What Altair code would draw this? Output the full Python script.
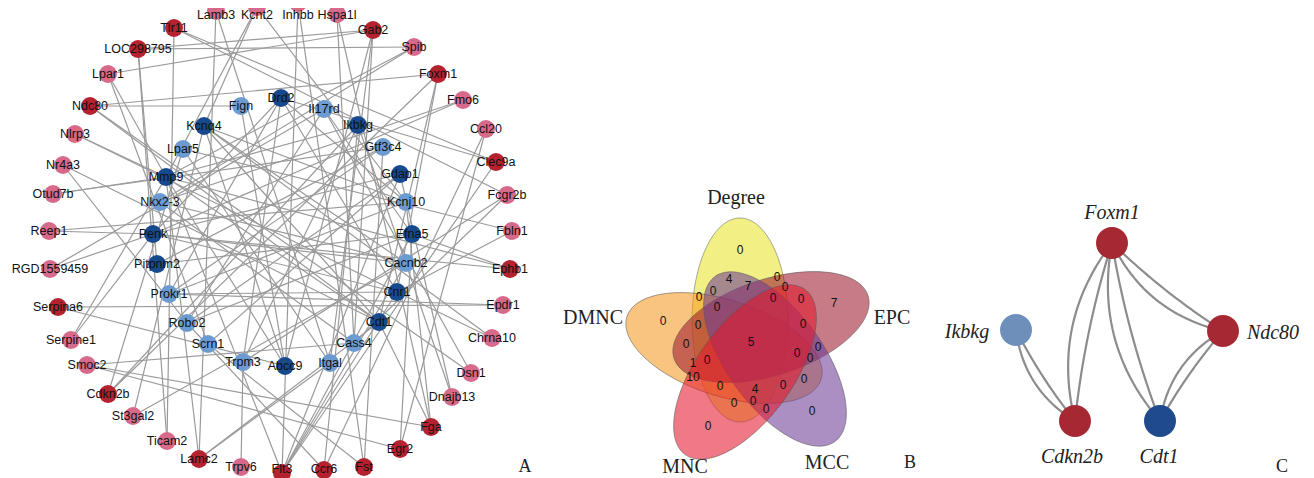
import altair as alt
import pandas as pd
import numpy as np

# ---------------- Panel A : PPI network ----------------
a_names = ["Lamb3", "Kcnt2", "Inhbb", "Hspa1l", "Gab2", "Spib", "Foxm1", "Fmo6", "Ccl20", "Clec9a",
           "Fcgr2b", "Fbln1", "Ephb1", "Epdr1", "Chrna10", "Dsn1", "Dnajb13", "Fga", "Egr2", "Fst",
           "Ccr6", "Flt3", "Trpv6", "Lamc2", "Ticam2", "St3gal2", "Cdkn2b", "Smoc2", "Serpine1", "Serpina6",
           "RGD1559459", "Reep1", "Otud7b", "Nr4a3", "Nlrp3", "Ndc80", "Lpar1", "LOC298795", "Tlr11",
           "Fign", "Drd2", "Il17rd", "Ikbkg", "Gtf3c4", "Gdap1", "Kcnj10", "Efna5", "Cacnb2", "Cnr1",
           "Cdt1", "Cass4", "Itgal", "Abcc9", "Trpm3", "Scrn1", "Robo2", "Prokr1", "Pitpnm2", "Penk",
           "Nkx2-3", "Mmp9", "Lpar5", "Kcnq4"]
a_x = [216, 257, 298, 337, 373, 414, 438, 463, 486, 496,
       507, 512, 510, 503, 492, 471, 452, 431, 400, 364,
       324, 282, 241, 199, 167, 133, 108, 87, 71, 58,
       50, 49, 53, 63, 75, 90, 108, 138, 174,
       241, 281, 324, 358, 383, 400, 406, 412, 406, 397,
       379, 354, 330, 285, 243, 208, 187, 169, 157, 153,
       160, 166, 183, 204]
a_y = [11, 7, 3, 14, 30, 47, 74, 100, 129, 162,
       195, 231, 269, 305, 338, 373, 397, 427, 449, 467,
       470, 473, 467, 459, 441, 416, 394, 365, 340, 307,
       269, 231, 194, 165, 134, 106, 74, 49, 28,
       106, 98, 109, 125, 147, 174, 202, 234, 263, 292,
       322, 343, 363, 366, 362, 344, 323, 294, 264, 234,
       202, 177, 149, 126]
a_type = ["pink", "pink", "pink", "pink", "dred", "pink", "dred", "pink", "pink", "dred",
          "pink", "pink", "dred", "pink", "pink", "pink", "pink", "dred", "dred", "dred",
          "dred", "dred", "pink", "dred", "pink", "pink", "dred", "pink", "pink", "dred",
          "pink", "pink", "pink", "pink", "pink", "dred", "pink", "dred", "dred",
          "lblue", "dblue", "lblue", "dblue", "lblue", "dblue", "lblue", "dblue", "lblue", "dblue",
          "dblue", "lblue", "lblue", "dblue", "lblue", "lblue", "lblue", "lblue", "dblue", "dblue",
          "lblue", "dblue", "lblue", "dblue"]

a_edges = [
    ("Tlr11", "Clec9a"), ("Tlr11", "Fcgr2b"), ("Tlr11", "Ticam2"),
    ("LOC298795", "Gab2"), ("LOC298795", "Spib"), ("LOC298795", "Pitpnm2"),
    ("Lamb3", "Lamc2"), ("Lamb3", "Itgal"),
    ("Kcnt2", "Kcnq4"), ("Kcnt2", "Mmp9"), ("Kcnt2", "Kcnj10"),
    ("Inhbb", "Fst"), ("Inhbb", "Flt3"),
    ("Hspa1l", "Fga"), ("Hspa1l", "Cass4"),
    ("Gab2", "Cass4"), ("Gab2", "Abcc9"), ("Gab2", "Lpar1"), ("Gab2", "Itgal"),
    ("Spib", "Mmp9"), ("Spib", "Nkx2-3"),
    ("Foxm1", "Ndc80"), ("Foxm1", "Cdt1"), ("Foxm1", "Cdkn2b"), ("Foxm1", "Cnr1"),
    ("Fmo6", "Nkx2-3"), ("Fmo6", "Penk"),
    ("Ccl20", "Ccr6"), ("Ccl20", "Egr2"),
    ("Clec9a", "Flt3"), ("Clec9a", "Drd2"),
    ("Fcgr2b", "Trpm3"), ("Fcgr2b", "Cass4"),
    ("Fbln1", "Cnr1"), ("Fbln1", "Lpar5"),
    ("Ephb1", "Efna5"), ("Ephb1", "Penk"), ("Ephb1", "Mmp9"),
    ("Epdr1", "Serpina6"), ("Epdr1", "Prokr1"),
    ("Chrna10", "Cnr1"), ("Chrna10", "Kcnq4"),
    ("Dsn1", "Il17rd"), ("Dsn1", "Ndc80"),
    ("Dnajb13", "Gdap1"), ("Dnajb13", "Ikbkg"),
    ("Fga", "Cdt1"), ("Fga", "Smoc2"), ("Fga", "Kcnj10"),
    ("Egr2", "Smoc2"), ("Egr2", "Efna5"),
    ("Fst", "Scrn1"), ("Fst", "Gtf3c4"),
    ("Ccr6", "Robo2"), ("Ccr6", "Ikbkg"),
    ("Flt3", "Cnr1"), ("Flt3", "Cacnb2"), ("Flt3", "Mmp9"), ("Flt3", "Efna5"), ("Flt3", "Gdap1"),
    ("Trpv6", "Trpm3"),
    ("Lamc2", "Itgal"), ("Lamc2", "Mmp9"), ("Lamc2", "Cdt1"),
    ("Ticam2", "LOC298795"),
    ("St3gal2", "Kcnq4"), ("St3gal2", "Cacnb2"),
    ("Cdkn2b", "Ikbkg"), ("Cdkn2b", "Lpar5"),
    ("Smoc2", "Cass4"),
    ("Serpine1", "Penk"), ("Serpine1", "Mmp9"),
    ("Serpina6", "Abcc9"),
    ("RGD1559459", "Penk"), ("RGD1559459", "Il17rd"),
    ("Reep1", "Kcnj10"), ("Reep1", "Penk"),
    ("Otud7b", "Gtf3c4"), ("Otud7b", "Mmp9"),
    ("Nr4a3", "Robo2"), ("Nr4a3", "Cdt1"),
    ("Nlrp3", "Mmp9"), ("Nlrp3", "Cnr1"),
    ("Ndc80", "Cdt1"), ("Ndc80", "Fign"),
    ("Lpar1", "Mmp9"), ("Lpar1", "Scrn1"),
    ("Drd2", "Cnr1"), ("Drd2", "Penk"), ("Drd2", "Kcnj10"), ("Drd2", "Prokr1"), ("Drd2", "Trpm3"),
    ("Fign", "Abcc9"),
    ("Il17rd", "Robo2"), ("Il17rd", "Efna5"),
    ("Ikbkg", "Mmp9"), ("Ikbkg", "Trpm3"),
    ("Gtf3c4", "Pitpnm2"), ("Gtf3c4", "Prokr1"),
    ("Gdap1", "Penk"), ("Gdap1", "Robo2"), ("Gdap1", "Scrn1"),
    ("Kcnj10", "Prokr1"), ("Kcnj10", "Kcnq4"),
    ("Efna5", "Robo2"), ("Efna5", "Pitpnm2"),
    ("Cacnb2", "Penk"), ("Cacnb2", "Nkx2-3"), ("Cacnb2", "Kcnq4"),
    ("Cnr1", "Penk"), ("Cnr1", "Prokr1"),
    ("Cdt1", "Mmp9"), ("Cdt1", "Kcnq4"),
    ("Cass4", "Nkx2-3"),
    ("Itgal", "Lpar5"),
    ("Abcc9", "Kcnq4"), ("Abcc9", "Mmp9"),
]

node_colors = {"dred": "#B3222E", "pink": "#D7698A", "dblue": "#17498F", "lblue": "#6C9BD2"}

# ---------------- Panel B : 5-set Venn (drawing order = list order) ----------------
v_sets = ["Degree", "DMNC", "EPC", "MCC", "MNC"]
v_cx = [740, 724, 771, 775, 745]
v_cy = [320, 348, 327, 359, 372]
v_angle = [0, 288, 72, 144, 216]
v_fill = ["#E9E52C", "#F59A22", "#9E1C30", "#6E3C96", "#E31A2C"]
v_label_x = [736, 593, 892, 827, 685]
v_label_y = [198, 318, 318, 463, 467]

v_counts = ["0", "4", "7", "0", "0", "0", "0", "7", "0", "0", "0", "0", "0", "0", "5", "0",
            "0", "0", "0", "1", "0", "10", "0", "4", "0", "0", "0", "0", "0", "0", "0"]
v_count_x = [740, 729, 748, 777, 785, 773, 801, 834, 699, 713, 717, 663, 698, 686, 751, 803,
             818, 797, 810, 693, 707, 693, 720, 755, 783, 804, 734, 753, 766, 708, 812]
v_count_y = [250, 279, 286, 277, 287, 298, 299, 303, 297, 291, 307, 321, 325, 344, 342, 324,
             347, 353, 358, 363, 360, 377, 386, 389, 385, 379, 403, 401, 409, 426, 411]

# ---------------- Panel C : core genes ----------------
c_names = ["Foxm1", "Ikbkg", "Ndc80", "Cdkn2b", "Cdt1"]
c_x = [1112, 1016, 1223, 1075, 1160]
c_y = [243, 330, 331, 421, 421]
c_color = ["#A52833", "#6E8FBA", "#A52833", "#A52833", "#1F4A8C"]
c_label_x = [1112, 967, 1273, 1072, 1159]
c_label_y = [213, 332, 333, 457, 457]
c_edges = [("Foxm1", "Cdkn2b"), ("Foxm1", "Cdt1"), ("Foxm1", "Ndc80"),
           ("Ikbkg", "Cdkn2b"), ("Ndc80", "Cdt1")]
c_bends = [0.025, 0.12]

panel_letters = ["A", "B", "C"]
panel_letter_x = [525, 910, 1282]
panel_letter_y = [467, 463, 467]

# ---------------- build tables ----------------
W, H = 1298, 470
XS = alt.Scale(domain=[8, 8 + W])
YS = alt.Scale(domain=[8, 8 + H], reverse=True)
LABEL_TOP, LABEL_BOTTOM = 15, 469  # keep the edge labels inside the drawing


def X(f):
    return alt.X(f, type="quantitative", scale=XS, axis=None)


def Y(f):
    return alt.Y(f, type="quantitative", scale=YS, axis=None)


nodes_a = pd.DataFrame({"name": a_names, "x": a_x, "y": a_y, "type": a_type})
nodes_a["col"] = nodes_a["type"].map(node_colors)
nodes_a["ly"] = nodes_a["y"].clip(lower=LABEL_TOP, upper=LABEL_BOTTOM)
pos = {n: (x, y) for n, x, y in zip(a_names, a_x, a_y)}
edges_a = pd.DataFrame({
    "x1": [pos[s][0] for s, t in a_edges], "y1": [pos[s][1] for s, t in a_edges],
    "x2": [pos[t][0] for s, t in a_edges], "y2": [pos[t][1] for s, t in a_edges],
})

# curved double edges for panel C (quadratic Bezier sampled along the chord)
cpos = {n: (x, y) for n, x, y in zip(c_names, c_x, c_y)}
rows = []
ts = np.linspace(0, 1, 30)
eid = 0
for s, t in c_edges:
    P = np.array(cpos[s], dtype=float)
    Q = np.array(cpos[t], dtype=float)
    d = Q - P
    L = np.hypot(*d)
    n = np.array([-d[1], d[0]]) / L
    for b in c_bends:
        C = (P + Q) / 2 + n * 2 * b * L
        for k, tt in enumerate(ts):
            pt = (1 - tt) ** 2 * P + 2 * (1 - tt) * tt * C + tt ** 2 * Q
            rows.append({"eid": eid, "k": k, "x": pt[0], "y": pt[1]})
        eid += 1
edges_c = pd.DataFrame(rows)
nodes_c = pd.DataFrame({"name": c_names, "x": c_x, "y": c_y, "col": c_color,
                        "lx": c_label_x, "ly": c_label_y})

venn = pd.DataFrame({"set": v_sets, "x": v_cx, "y": v_cy, "angle": v_angle, "fill": v_fill,
                     "lx": v_label_x, "ly": v_label_y, "ord": list(range(len(v_sets)))})
counts = pd.DataFrame({"t": v_counts, "x": v_count_x, "y": v_count_y})
letters = pd.DataFrame({"t": panel_letters, "x": panel_letter_x, "y": panel_letter_y})

# ellipse shape (unit path, long axis vertical), drawn with cubic Beziers
ra = 0.47
k = 0.5523
kx = ra * k
ell = (f"M0,-1C{kx:.4f},-1,{ra},{-k},{ra},0C{ra},{k},{kx:.4f},1,0,1"
       f"C{-kx:.4f},1,{-ra},{k},{-ra},0C{-ra},{-k},{-kx:.4f},-1,0,-1Z")

# ---------------- layers ----------------
la_edges = alt.Chart(edges_a).mark_rule(color="#9A9A9A", strokeWidth=1.2).encode(
    x=X("x1"), y=Y("y1"), x2="x2:Q", y2="y2:Q")
la_nodes = alt.Chart(nodes_a).mark_circle(size=320, opacity=1).encode(
    x=X("x"), y=Y("y"), color=alt.Color("col:N", scale=None))
la_text = alt.Chart(nodes_a).mark_text(font="Liberation Sans", fontSize=12.5, color="#111111",
                                        baseline="middle").encode(
    x=X("x"), y=Y("ly"), text="name:N")

lb_ell = alt.Chart(venn).mark_point(shape=ell, size=(2 * 102) ** 2, filled=True, opacity=1,
                                     fillOpacity=0.58, stroke="#555555", strokeWidth=0.7,
                                     strokeOpacity=0.7).encode(
    x=X("x"), y=Y("y"), angle=alt.Angle("angle:Q", scale=None),
    fill=alt.Fill("fill:N", scale=None), order=alt.Order("ord:Q"))
lb_counts = alt.Chart(counts).mark_text(font="Liberation Sans", fontSize=12, color="#111111",
                                         baseline="middle").encode(
    x=X("x"), y=Y("y"), text="t:N")
lb_labels = alt.Chart(venn).mark_text(font="Liberation Serif", fontSize=20, color="#222222",
                                       baseline="middle").encode(
    x=X("lx"), y=Y("ly"), text="set:N")

lc_edges = alt.Chart(edges_c).mark_line(color="#8C8C8C", strokeWidth=2.2).encode(
    x=X("x"), y=Y("y"), detail="eid:N", order="k:Q")
lc_nodes = alt.Chart(nodes_c).mark_circle(size=1020, opacity=1).encode(
    x=X("x"), y=Y("y"), color=alt.Color("col:N", scale=None))
lc_text = alt.Chart(nodes_c).mark_text(font="Liberation Serif", fontSize=20, fontStyle="italic",
                                        color="#222222", baseline="middle").encode(
    x=X("lx"), y=Y("ly"), text="name:N")

l_letters = alt.Chart(letters).mark_text(font="Liberation Serif", fontSize=18, color="#222222",
                                          baseline="middle").encode(
    x=X("x"), y=Y("y"), text="t:N")

chart = alt.layer(
    la_edges, la_nodes, la_text,
    lb_ell, lb_counts, lb_labels,
    lc_edges, lc_nodes, lc_text,
    l_letters,
).properties(
    width=W, height=H, padding=0,
    autosize=alt.AutoSizeParams(type="none"),
).configure_view(stroke=None)

chart.save("out.html", embed_options={"renderer": "svg", "actions": False})
